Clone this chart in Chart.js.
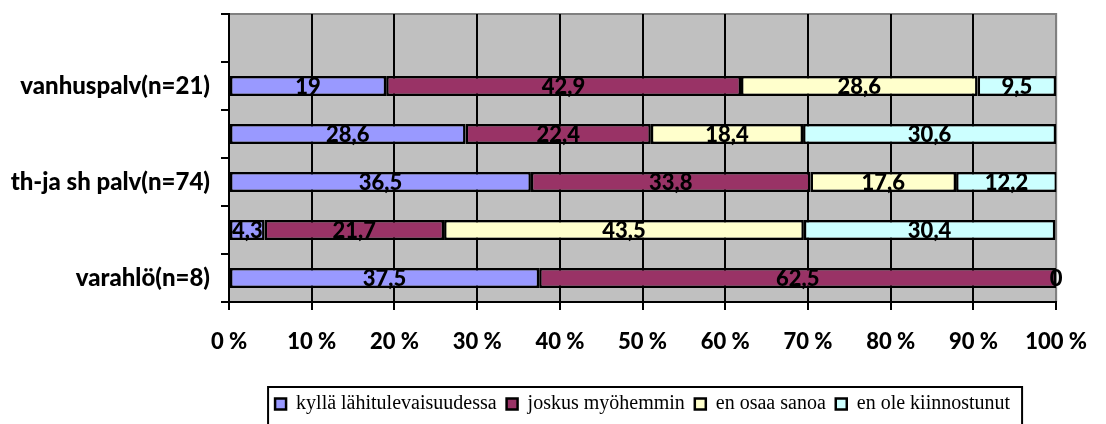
<!DOCTYPE html>
<html>
<head>
<meta charset="utf-8">
<script src="https://cdn.jsdelivr.net/npm/chart.js@4"></script>
<style>
  html, body { margin: 0; padding: 0; background: #fff; }
  #wrap { width: 1106px; height: 424px; }
</style>
</head>
<body>
<div id="wrap"><canvas id="chart" width="1106" height="424"></canvas></div>
<script>
// === Data ===
const categories = ['', 'vanhuspalv(n=21)', '', 'th-ja sh palv(n=74)', '', 'varahlö(n=8)'];
const seriesNames = ['kyllä lähitulevaisuudessa', 'joskus myöhemmin', 'en osaa sanoa', 'en ole kiinnostunut'];
const kylla = [null, 19, 28.6, 36.5, 4.3, 37.5];
const joskus = [null, 42.9, 22.4, 33.8, 21.7, 62.5];
const enOsaa = [null, 28.6, 18.4, 17.6, 43.5, 0];
const eiKiinn = [null, 9.5, 30.6, 12.2, 30.4, null];
const xTicks = [0, 10, 20, 30, 40, 50, 60, 70, 80, 90, 100];

const colors = ['#9999FF', '#993366', '#FFFFCC', '#CCFFFF'];
const seriesData = [kylla, joskus, enOsaa, eiKiinn];

// gray plot background + gray top/right frame
const plotBg = {
  id: 'plotBg',
  beforeDraw(chart) {
    const { ctx, chartArea: a } = chart;
    ctx.save();
    ctx.fillStyle = '#C0C0C0';
    ctx.fillRect(a.left, a.top, a.right - a.left, a.bottom - a.top);
    ctx.strokeStyle = '#808080';
    ctx.lineWidth = 2;
    ctx.beginPath();
    ctx.moveTo(a.left, a.top);
    ctx.lineTo(a.right, a.top);
    ctx.lineTo(a.right, a.bottom);
    ctx.stroke();
    ctx.restore();
  }
};

// value labels in the middle of each segment
const barLabels = {
  id: 'barLabels',
  afterDatasetsDraw(chart) {
    const { ctx } = chart;
    ctx.save();
    ctx.font = '900 22px Lato';
    ctx.fillStyle = '#000';
    ctx.textAlign = 'center';
    ctx.textBaseline = 'middle';
    chart.data.datasets.forEach((ds, i) => {
      chart.getDatasetMeta(i).data.forEach((el, j) => {
        const v = ds.data[j];
        if (v === null || v === undefined) return;
        const p = el.getProps(['x', 'y', 'base'], true);
        ctx.fillText(String(v).replace('.', ','), (p.x + p.base) / 2, p.y + 1);
      });
    });
    ctx.restore();
  }
};

// frame round the legend
const legendBox = {
  id: 'legendBox',
  afterDraw(chart) {
    const lg = chart.legend;
    if (!lg || !lg.legendHitBoxes.length) return;
    const boxes = lg.legendHitBoxes;
    const last = boxes[boxes.length - 1];
    const left = boxes[0].left - 7;
    const right = last.left + last.width + 12;
    const { ctx } = chart;
    ctx.save();
    ctx.strokeStyle = '#000';
    ctx.lineWidth = 2;
    ctx.strokeRect(left, lg.top + 3, right - left, 60);
    ctx.restore();
  }
};

new Chart(document.getElementById('chart'), {
  type: 'bar',
  data: {
    labels: categories,
    datasets: seriesNames.map((name, i) => ({
      label: name,
      data: seriesData[i],
      backgroundColor: colors[i],
      borderColor: '#000',
      borderWidth: 2.5,
      borderSkipped: false,
      barPercentage: 0.42,
      categoryPercentage: 1
    }))
  },
  options: {
    indexAxis: 'y',
    responsive: false,
    animation: false,
    layout: { padding: { left: 0, right: 46, top: 14, bottom: 0 } },
    plugins: {
      tooltip: { enabled: false },
      legend: {
        position: 'bottom',
        fullSize: false,
        labels: {
          boxWidth: 11, boxHeight: 11, padding: 10,
          color: '#000',
          font: { family: '"Liberation Serif", serif', size: 20 }
        }
      }
    },
    scales: {
      x: {
        stacked: true, min: 0, max: 100,
        afterBuildTicks: s => { s.ticks = xTicks.map(v => ({ value: v })); },
        afterFit: s => { s.height = 82; },
        border: { display: true, color: '#000', width: 2 },
        grid: {
          color: c => c.tick && c.tick.value === 100 ? '#808080' : '#000',
          tickColor: '#000', lineWidth: 2, tickLength: 8
        },
        ticks: {
          padding: 19, color: '#000',
          font: { family: 'Lato', weight: '900', size: 22 },
          callback: v => v + ' %'
        }
      },
      y: {
        stacked: true,
        afterFit: s => { s.width = 229; s.paddingTop = 0; s.paddingBottom = 0; },
        border: { display: true, color: '#000', width: 2 },
        grid: { drawOnChartArea: false, drawTicks: true, tickLength: 8, color: '#000', lineWidth: 2, offset: true },
        ticks: {
          padding: 11, color: '#000', autoSkip: false,
          font: { family: 'Lato', weight: '900', size: 24 }
        }
      }
    }
  },
  plugins: [plotBg, barLabels, legendBox]
});
</script>
</body>
</html>
